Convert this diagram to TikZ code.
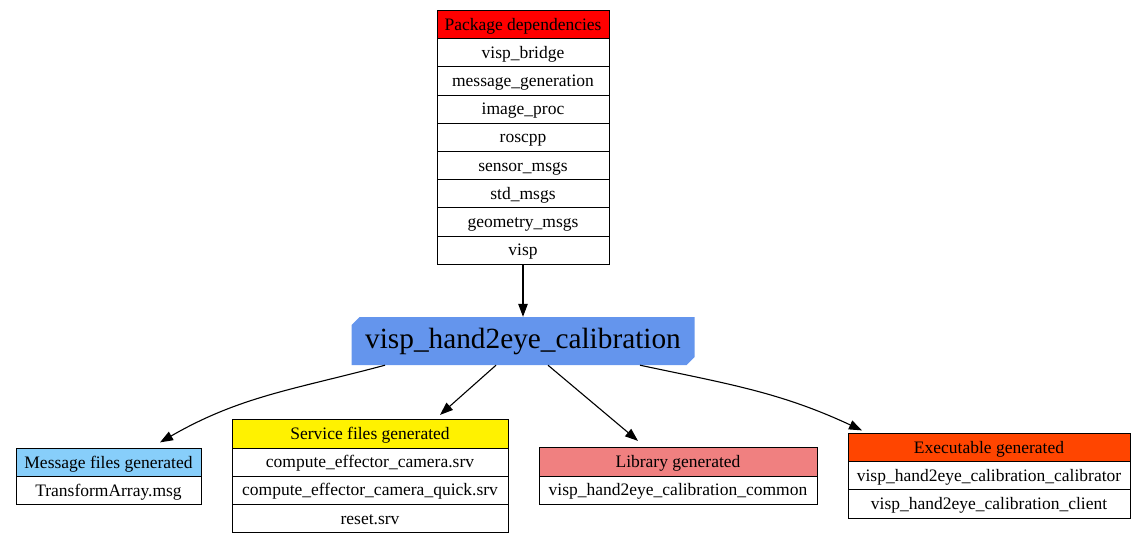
\documentclass[tikz,border=0pt]{standalone}
\usepackage{fontspec}
\setmainfont{Liberation Serif}
\usetikzlibrary{arrows,arrows.meta,shapes,shapes.misc,positioning}
\definecolor{cornflower}{HTML}{6495ED}
\definecolor{lightsky}{HTML}{87CEFA}
\definecolor{lightcoral}{HTML}{F08080}
\definecolor{orangered}{HTML}{FF4500}

\begin{document}
\begin{tikzpicture}[x=1pt, y=-1pt, auto,
	cell/.style={draw, line width=1pt, outer sep=0pt, inner sep=0pt, fill=white, font=\fontsize{17.5}{20}\selectfont, text height=13.5pt, text depth=2.5pt, minimum height=28.2pt},
	pkg/.style={chamfered rectangle, chamfered rectangle corners={north west,south east}, chamfered rectangle xsep=4pt, chamfered rectangle ysep=4pt, fill=cornflower, minimum width=343pt, minimum height=48pt, inner sep=0pt, font=\fontsize{29.3}{32}\selectfont},
	dep/.style={-{Triangle[length=13pt,width=9.5pt]}, line width=1.1pt}]
	\useasboundingbox (0,0) rectangle (1147,544);

	% dependencies
	\node[cell, minimum width=172pt, fill=red] (dep0) at (523,24.5) {Package dependencies};
	\foreach \txt [count=\i, remember=\i as \j (initially 0)] in {visp\_bridge, message\_generation, image\_proc, roscpp, sensor\_msgs, std\_msgs, geometry\_msgs, visp}
		\node[cell, minimum width=172pt, below=0pt of dep\j] (dep\i) {\txt};

	\node[pkg] (main) at (523,341) {visp\_hand2eye\_calibration};

	% generated files
	\node[cell, minimum width=185pt, fill=lightsky] (msg0) at (108.5,462.5) {Message files generated};
	\node[cell, minimum width=185pt, below=0pt of msg0] (msg1) {TransformArray.msg};

	\node[cell, minimum width=276pt, fill=yellow] (svc0) at (370,434) {Service files generated};
	\foreach \txt [count=\i, remember=\i as \j (initially 0)] in {compute\_effector\_camera.srv, compute\_effector\_camera\_quick.srv, reset.srv}
		\node[cell, minimum width=276pt, below=0pt of svc\j] (svc\i) {\txt};

	\node[cell, minimum width=278pt, fill=lightcoral] (lib0) at (678,462) {Library generated};
	\node[cell, minimum width=278pt, below=0pt of lib0] (lib1) {visp\_hand2eye\_calibration\_common};

	\node[cell, minimum width=282pt, fill=orangered] (exe0) at (989,447.5) {Executable generated};
	\foreach \txt [count=\i, remember=\i as \j (initially 0)] in {visp\_hand2eye\_calibration\_calibrator, visp\_hand2eye\_calibration\_client}
		\node[cell, minimum width=282pt, below=0pt of exe\j] (exe\i) {\txt};

	% edges
	\draw[dep] (dep8.south) -- (main.north);
	\draw[dep] ([xshift=-138pt]main.south) to[out=195, in=30] ([xshift=51.5pt,yshift=6pt]msg0.north);
	\draw[dep] ([xshift=-27pt]main.south) -- ([xshift=70pt,yshift=5pt]svc0.north);
	\draw[dep] ([xshift=25pt]main.south) -- ([xshift=-40pt,yshift=7pt]lib0.north);
	\draw[dep] ([xshift=117pt]main.south) to[out=-12, in=155] ([xshift=-127pt,yshift=3pt]exe0.north);
\end{tikzpicture}
\end{document}
